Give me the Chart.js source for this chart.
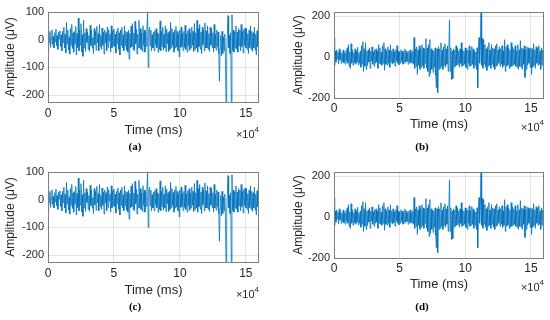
<!DOCTYPE html>
<html>
<head>
<meta charset="utf-8">
<script src="https://cdn.jsdelivr.net/npm/chart.js@4.4.0/dist/chart.umd.min.js"></script>
<style>
  body { margin: 0; background: #fff; }
  .panel { position: absolute; width: 275px; height: 160px; }
</style>
</head>
<body>
<div class="panel" style="left:0;top:0"><canvas id="chartA" width="275" height="160"></canvas></div>
<div class="panel" style="left:275px;top:0"><canvas id="chartB" width="275" height="160"></canvas></div>
<div class="panel" style="left:0;top:160px"><canvas id="chartC" width="275" height="160"></canvas></div>
<div class="panel" style="left:275px;top:160px"><canvas id="chartD" width="275" height="160"></canvas></div>
<script>
// sampling step of the read-off points (ms), one row below = 1e4 ms
const timeStepMs = 500;
const xTicks = [0, 50000, 100000, 150000];

// signal of panels (a) and (c), µV
const signalA = [
  -45, 22, -12, 30, -28, 8, 35, -18, 12, -30, 25, -8, 38, -22, 15, -35, 28, 3, 32, -25,
  18, -40, 30, -10, 45, -30, 20, -48, 62, -15, 35, -38, 10, -52, 40, -20, 55, -32, 25, -45,
  30, -15, 48, -55, 22, -28, 78, -40, 35, -20, 58, -45, 18, -60, 70, -30, 25, -42, 40, -10,
  28, -35, 15, -42, 52, -22, 35, -30, 8, -50, 40, -18, 30, -38, 48, -12, 22, -40, 55, -25,
  15, -35, 42, -20, 28, -52, 35, -12, 25, -40, 45, -28, 36, -5, 20, -45, 50, -30, 32, -22,
  38, -25, 20, -48, 30, -15, 42, -35, 25, -55, 35, -20, 45, -30, 18, -40, 50, -22, 30, -38,
  26, -45, 35, -70, 22, -30, 48, -25, 58, -35, 24, -40, 66, -15, 38, -52, 20, -30, 70, -28,
  40, -35, 25, -42, 50, -20, 35, -45, 30, -25, 42, 100, -100, 28, 45, -22, 35, -40, 18, -30,
  28, -40, 33, -18, 40, -30, 25, -45, 22, -35, 68, -40, 30, -25, 45, -38, 20, -30, 50, -42,
  38, -15, 25, -42, 30, -35, 62, -28, 40, -20, 26, -45, 35, -30, 48, -25, 30, -40, 20, -62,
  35, -30, 46, -25, 22, -40, 30, -28, 52, -35, 20, -45, 32, -22, 40, -38, 25, -30, 45, -20,
  30, -42, 58, -35, 25, -30, 70, -45, 40, -25, 55, -35, 28, -50, 45, -18, 35, -40, 60, -30,
  32, -30, 50, -35, 22, -42, 45, -20, 40, -28, 25, -45, 55, -30, 20, -38, 35, -25, 28, -50,
  -150, -30, 15, -58, 30, -50, 10, -40, 20, -60, -230, -45, 20, 87, -30, 15, -50, 25, -230, 90,
  -40, 35, -45, 28, -30, 50, -35, 28, -45, 40, -22, 35, -40, 55, -25, 30, -48, 38, -20, 42,
  -30, 40, -35, 22, -50, 35, -28, 50, -35, 30, -42, 25, -30, 45, -38, 20, -55, 32, -25, 40,
  -75
];

// signal of panels (b) and (d), µV
const signalB = [
  95, -40, 30, -25, 35, -10, 25, -35, 40, -15, 28, -30, 20, -22, 35, -28, 18, -35, 30, -20,
  45, -30, 60, -45, 25, -55, 65, -30, 35, -40, 22, -28, 40, -35, 30, -25, 48, -38, 20, -30,
  30, -50, 55, -35, 75, -70, 40, -45, 70, -60, 28, -40, 35, -25, 45, -55, 30, -20, 50, -35,
  25, -45, 35, -30, 40, -25, 30, -55, 60, -30, 45, -35, 25, -40, 55, -30, 70, -65, 40, -35,
  30, -40, 50, -30, 35, -50, 60, -25, 30, -35, 40, -28, 25, -45, 35, -20, 55, -30, 28, -38,
  25, -30, 35, -20, 30, -35, 25, -30, 40, -25, 30, -22, 20, -35, 28, -25, 35, -30, 22, -28,
  30, -35, 95, -55, 40, -45, 50, -85, 35, -40, 55, -60, 40, -50, 60, -40, 45, -55, 38, -30,
  90, -55, 45, -70, 60, -95, 85, -80, 40, -60, 35, -75, 30, -50, 45, -90, -150, 40, -175, 50,
  -60, 40, -55, 70, -45, 35, -60, 50, -40, 65, -50, 40, -35, 55, -70, 45, 180, -70, 45, -110,
  30, -105, 40, -50, 35, -45, 55, -40, 45, -35, 30, -50, 40, -30, 70, -45, 35, -40, 30, -35,
  45, -50, 40, -60, 35, -30, 55, -45, 30, -40, 50, -35, 40, -55, 30, -40, 25, -60, 45, -150,
  40, 95, -30, 60, 225, -40, 90, -55, 85, -35, 60, -50, 40, -65, 50, -45, 70, -40, 35, -55,
  60, -35, 45, -50, 40, -60, 55, -45, 65, -40, 35, -30, 50, -45, 40, -35, 55, -50, 30, -40,
  85, -70, 50, -45, 60, -40, 45, -55, 35, -50, 70, -45, 50, -40, 40, -35, 55, -45, 30, -50,
  60, -60, 35, -45, 80, -50, 45, -60, 40, -35, 55, -100, 35, -60, 50, -40, 45, -30, 40, -50,
  45, -85, 40, -50, 65, -40, 35, -55, 50, -30, 45, -40, 55, -35, 30, -60, 45, -40, 35, -30,
  20
];

const yTicksA = [-200, -100, 0, 100];
const yTicksB = [-200, 0, 200];

// MATLAB-like box around the axes plus the x10^4 note and the caption
const decorPlugin = {
  id: 'decor',
  afterDraw(chart, args, opts) {
    const { ctx, chartArea: a } = chart;
    ctx.save();
    ctx.strokeStyle = '#7f7f7f';
    ctx.lineWidth = 1;
    ctx.strokeRect(a.left + 0.5, a.top + 0.5, a.right - a.left - 1, a.bottom - a.top);
    // x10^4
    ctx.fillStyle = '#262626';
    ctx.textBaseline = 'alphabetic';
    ctx.textAlign = 'right';
    ctx.font = '8px Arial, "Liberation Sans"';
    ctx.fillText('4', a.right, opts.expY - 6);
    const w4 = ctx.measureText('4').width;
    ctx.font = '11px Arial, "Liberation Sans"';
    ctx.fillText('\u00d710', a.right - w4, opts.expY);
    // caption
    ctx.fillStyle = '#000';
    ctx.textAlign = 'center';
    ctx.font = 'bold 11px "Liberation Serif", "DejaVu Serif", serif';
    ctx.fillText(opts.caption, opts.capX, opts.capY);
    ctx.restore();
  }
};

function makePanel(id, values, yMin, yMax, yTicks, g) {
  const points = values.map((v, i) => ({ x: i * timeStepMs, y: v }));
  return new Chart(document.getElementById(id).getContext('2d'), {
    type: 'line',
    data: {
      datasets: [{
        data: points,
        borderColor: '#0072BD',
        borderWidth: 0.8,
        pointRadius: 0,
        tension: 0
      }]
    },
    options: {
      responsive: false,
      animation: false,
      events: [],
      layout: { padding: { left: 0, top: g.top, right: 275 - g.right, bottom: 0 } },
      plugins: {
        legend: { display: false },
        tooltip: { enabled: false },
        decor: { caption: g.caption, capX: g.capX, capY: g.capY, expY: g.expY }
      },
      scales: {
        x: {
          type: 'linear',
          min: 0,
          max: 160000,
          afterBuildTicks: s => { s.ticks = xTicks.map(v => ({ value: v })); },
          afterFit: s => { s.height = 160 - g.bottom; },
          grid: { color: '#e3e3e3', drawTicks: false },
          border: { display: false },
          ticks: {
            color: '#262626',
            padding: g.xTickPad,
            maxRotation: 0,
            font: { family: 'Arial, "Liberation Sans"', size: 12 },
            callback: v => v / 10000
          },
          title: {
            display: true,
            text: 'Time (ms)',
            color: '#262626',
            font: { family: 'Arial, "Liberation Sans"', size: 13 },
            padding: { top: 0, bottom: g.xTitlePad }
          }
        },
        y: {
          min: yMin,
          max: yMax,
          afterBuildTicks: s => { s.ticks = yTicks.map(v => ({ value: v })); },
          afterFit: s => { s.width = g.left; },
          grid: { color: '#e3e3e3', drawTicks: false },
          border: { display: false },
          ticks: {
            color: '#262626',
            padding: 4,
            font: { family: 'Arial, "Liberation Sans"', size: 11 }
          },
          title: {
            display: true,
            text: 'Amplitude (\u03bcV)',
            color: '#262626',
            font: { family: 'Arial, "Liberation Sans"', size: 12 },
            padding: { top: g.yTitlePad, bottom: 0 }
          }
        }
      }
    },
    plugins: [decorPlugin]
  });
}

const geomA = { left: 48, right: 259, top: 12, bottom: 102, xTickPad: 4, xTitlePad: 22, yTitlePad: 3, expY: 138, capX: 135, capY: 150 };
const geomB = { left: 59, right: 269, top: 12, bottom: 98, xTickPad: 3, xTitlePad: 28, yTitlePad: 16, expY: 131, capX: 147, capY: 150 };

makePanel('chartA', signalA, -225, 100, yTicksA, Object.assign({ caption: '(a)' }, geomA));
makePanel('chartB', signalB, -200, 220, yTicksB, Object.assign({ caption: '(b)' }, geomB));
makePanel('chartC', signalA, -225, 100, yTicksA, Object.assign({ caption: '(c)' }, geomA));
makePanel('chartD', signalB, -200, 220, yTicksB, Object.assign({ caption: '(d)' }, geomB));
</script>
</body>
</html>
